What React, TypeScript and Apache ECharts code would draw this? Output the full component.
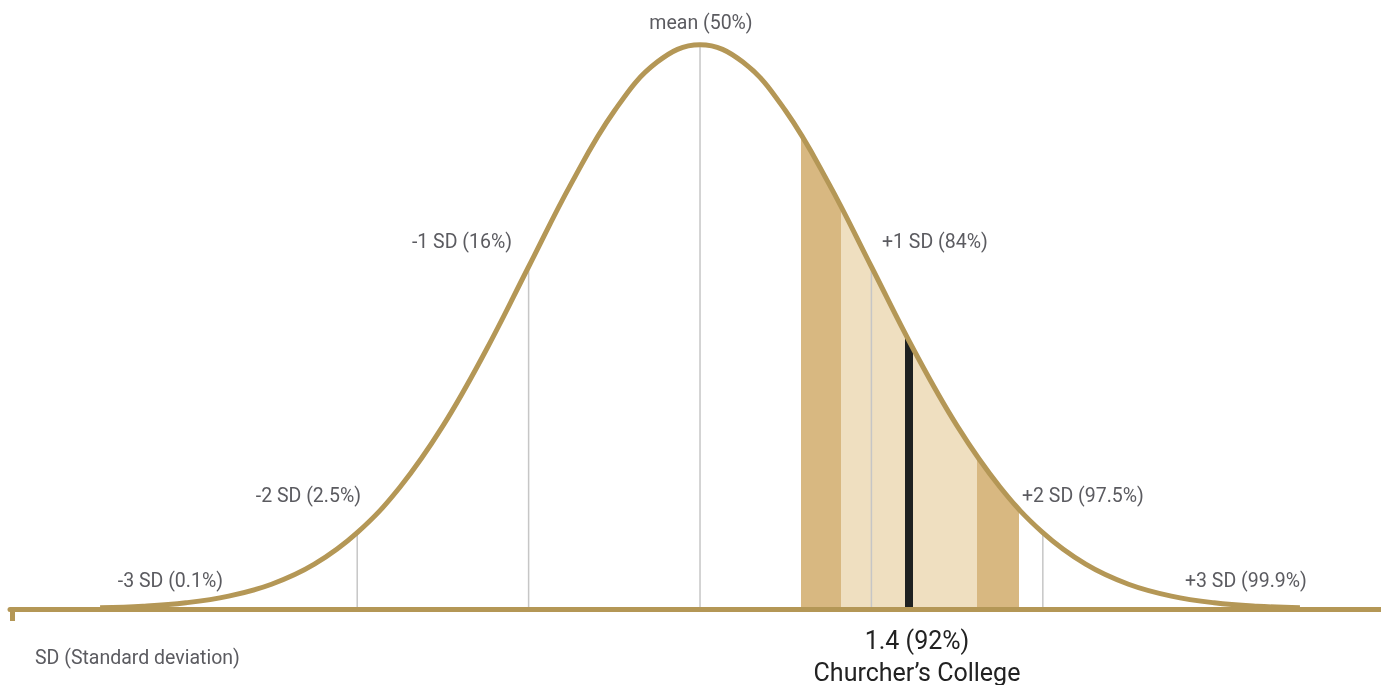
import React, { useEffect, useRef } from "react";
import * as echarts from "echarts";

// Bell curve: x in standard deviations, y = density
const CURVE_X = [-3.5, -3.25, -3, -2.75, -2.5, -2.25, -2, -1.75, -1.5, -1.25, -1, -0.75, -0.5, -0.25, 0,
  0.25, 0.5, 0.75, 1, 1.25, 1.5, 1.75, 2, 2.25, 2.5, 2.75, 3, 3.25, 3.5];
const CURVE_Y = [0.0009, 0.002, 0.0044, 0.0091, 0.0175, 0.0317, 0.054, 0.0863, 0.1295, 0.1826, 0.242, 0.3011, 0.3521, 0.3867, 0.3989,
  0.3867, 0.3521, 0.3011, 0.242, 0.1826, 0.1295, 0.0863, 0.054, 0.0317, 0.0175, 0.0091, 0.0044, 0.002, 0.0009];

// SD guide lines
const SD_LINES = [-2, -1, 0, 1, 2];

// Shaded band (in SD units) and the school's marker
const BAND_OUTER = [0.589, 1.861];
const BAND_INNER = [0.823, 1.616];
const MARKER = [1.196, 1.243];

// Labels
const SD_LABELS = ["-3 SD (0.1%)", "-2 SD (2.5%)", "-1 SD (16%)", "mean (50%)", "+1 SD (84%)", "+2 SD (97.5%)", "+3 SD (99.9%)"];
const AXIS_NOTE = "SD (Standard deviation)";
const SCHOOL_SCORE = "1.4 (92%)";
const SCHOOL_NAME = "Churcher’s College";

const GOLD = "#b49756";
const DARK = "#d8b881";
const LIGHT = "#efdfc0";
const BLACK = "#1e2121";
const GREY_LINE = "#c6c6c6";
const TEXT = "#5b5b60";

export default function App() {
  const ref = useRef<HTMLDivElement>(null);
  useEffect(() => {
    if (!ref.current) return;
    const chart = echarts.init(ref.current, undefined, { renderer: "svg" });
    const pts = CURVE_X.map((x, i) => [x, CURVE_Y[i]]);
    const sdPts = SD_LINES.map((x) => [x, CURVE_Y[CURVE_X.indexOf(x)]]);
    const transparent = "rgba(255,255,255,0)";
    const font = "Roboto";
    const lbl = (text: string, x: number, y: number, align: string, size = 19.5, fill = TEXT) => ({
      type: "text",
      x,
      y,
      silent: true,
      style: { text, fill, fontSize: size, fontFamily: font, textAlign: align, textVerticalAlign: "middle" },
    });
    chart.setOption({
      animation: false,
      grid: { left: 10, right: 0, top: 15, bottom: 76 },
      xAxis: {
        type: "value",
        min: -4.0257,
        max: 3.973,
        z: 5,
        axisLine: { show: true, onZero: true, lineStyle: { color: GOLD, width: 5 } },
        axisTick: { show: false },
        axisLabel: { show: false },
        splitLine: { show: false },
      },
      yAxis: { type: "value", min: 0, max: 0.42, show: false },
      visualMap: {
        type: "piecewise",
        show: false,
        seriesIndex: 0,
        dimension: 0,
        pieces: [
          { lt: BAND_OUTER[0], color: transparent },
          { gte: BAND_OUTER[0], lt: BAND_INNER[0], color: DARK },
          { gte: BAND_INNER[0], lt: MARKER[0], color: LIGHT },
          { gte: MARKER[0], lt: MARKER[1], color: BLACK },
          { gte: MARKER[1], lt: BAND_INNER[1], color: LIGHT },
          { gte: BAND_INNER[1], lt: BAND_OUTER[1], color: DARK },
          { gte: BAND_OUTER[1], color: transparent },
        ],
      },
      series: [
        {
          type: "line",
          data: pts,
          smooth: 0.4,
          symbol: "none",
          silent: true,
          lineStyle: { width: 0, opacity: 0 },
          areaStyle: { opacity: 1 },
          z: 1,
        },
        {
          type: "bar",
          data: sdPts,
          barWidth: 1.5,
          silent: true,
          itemStyle: { color: GREY_LINE },
          z: 2,
        },
        {
          type: "line",
          data: pts,
          smooth: 0.4,
          symbol: "none",
          silent: true,
          lineStyle: { color: GOLD, width: 5 },
          z: 3,
        },
      ],
      graphic: [
        { type: "rect", shape: { x: 10, y: 607, width: 5, height: 14 }, style: { fill: GOLD }, silent: true },
        lbl(SD_LABELS[0], 223, 580, "right"),
        lbl(SD_LABELS[1], 361, 495, "right"),
        lbl(SD_LABELS[2], 512, 241, "right"),
        lbl(SD_LABELS[3], 701, 22, "center"),
        lbl(SD_LABELS[4], 882, 241, "left"),
        lbl(SD_LABELS[5], 1022, 495, "left"),
        lbl(SD_LABELS[6], 1185, 580, "left"),
        lbl(AXIS_NOTE, 35, 657, "left"),
        lbl(SCHOOL_SCORE, 917, 640, "center", 25, "#222"),
        lbl(SCHOOL_NAME, 917, 672, "center", 25, "#222"),
      ],
    });
    return () => chart.dispose();
  }, []);
  return <div ref={ref} style={{ position: "fixed", left: 0, top: 0, width: 1381, height: 685 }} />;
}
